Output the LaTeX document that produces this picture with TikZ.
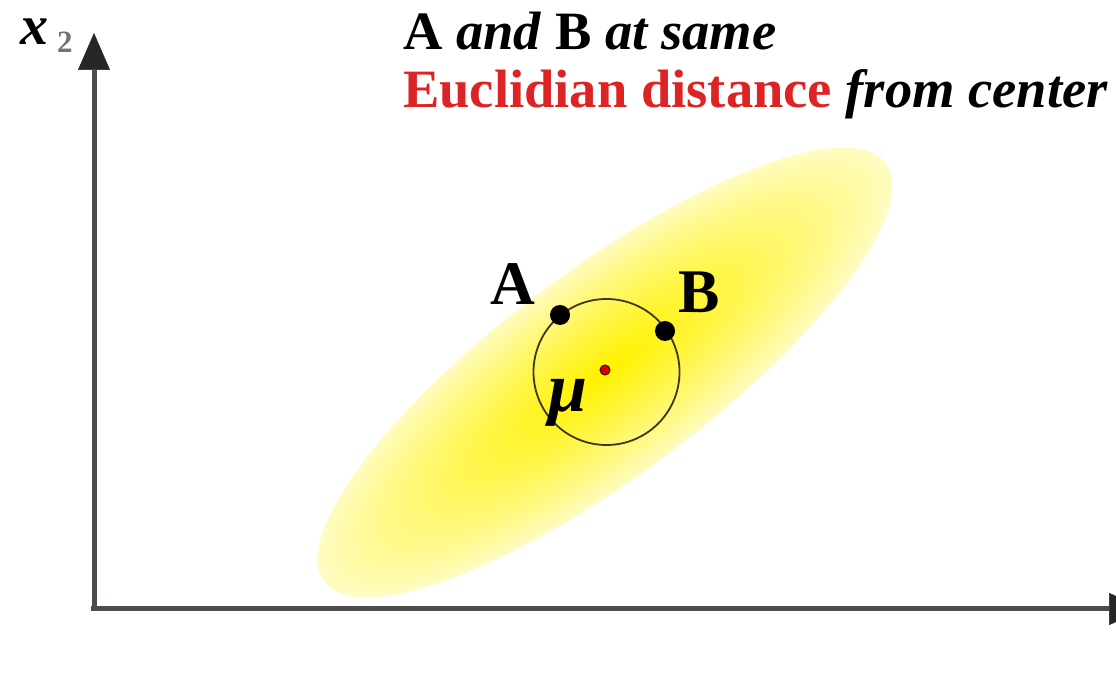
\documentclass[tikz,border=0pt]{standalone}
\usepackage{fontspec}
\setmainfont{Liberation Serif}
\usetikzlibrary{arrows.meta}
\definecolor{axisgray}{RGB}{80,76,76}
\definecolor{titlered}{RGB}{220,36,36}
\definecolor{circline}{RGB}{60,55,30}
\tikzset{
  axisline/.style={draw=axisgray, line width=5pt, -{Triangle[length=37pt,width=32pt,color=black!85,line width=0.5pt]}},
  titletext/.style={anchor=base west, inner sep=0pt, font=\fontsize{54}{60}\selectfont\bfseries},
  ptlabel/.style={anchor=base west, inner sep=0pt, font=\fontsize{62}{66}\selectfont\bfseries},
  ptdot/.style={circle, fill=black, minimum size=20pt, inner sep=0pt},
}
\begin{document}
\begin{tikzpicture}[x=1pt,y=1pt]
\useasboundingbox (0,0) rectangle (1116,677);
% gaussian-like ellipse
\begin{scope}[shift={(605,304.5)}, rotate=36.7]
  \foreach \i in {0,...,45}{
    \pgfmathsetmacro{\s}{1-\i/46}
    \pgfmathsetmacro{\p}{24+76*(\i/45)^0.85}
    \fill[yellow!\p!white] (0,0) ellipse [x radius={350*\s}, y radius={103*\s}];
  }
\end{scope}
% axes
\coordinate (O) at (91,68);
\coordinate (ytip) at (94,644);
\coordinate (xtip) at (1146,68);
\draw[axisline] (94,68) -- (ytip);
\draw[axisline] (O) -- (xtip);
\node[anchor=base west, inner sep=0pt, font=\fontsize{56}{60}\selectfont\bfseries\itshape] (x2) at (20,632) {x};
\node[anchor=base west, inner sep=0pt, font=\fontsize{31}{33}\selectfont\bfseries, text=black!55] (sub2) at (57,624) {2};
% circle
\node[circle, draw=circline, line width=1.8pt, minimum size=146pt, inner sep=0pt] (circ) at (606.5,305) {};
\node[ptdot] (A) at (560,362) {};
\node[ptdot] (B) at (665,346) {};
\node[circle, fill=red!85!black, draw=black!70!red, line width=1pt, minimum size=10pt, inner sep=0pt] (mu) at (605,307) {};
\node[ptlabel] (LA) at (490,372) {A};
\node[ptlabel] (LB) at (678,364) {B};
\node[anchor=base west, inner sep=0pt, font=\fontsize{70}{74}\selectfont\bfseries\itshape] (lmu) at (548,265) {μ};
% title
\node[titletext] (t1) at (403,627) {\scalebox{1.01}[1]{A \textit{and} B \textit{at same}}};
\node[titletext] (t2) at (403,569) {\scalebox{1.01}[1]{\textcolor{titlered}{Euclidian distance} \textit{from center}}};
\end{tikzpicture}
\end{document}
